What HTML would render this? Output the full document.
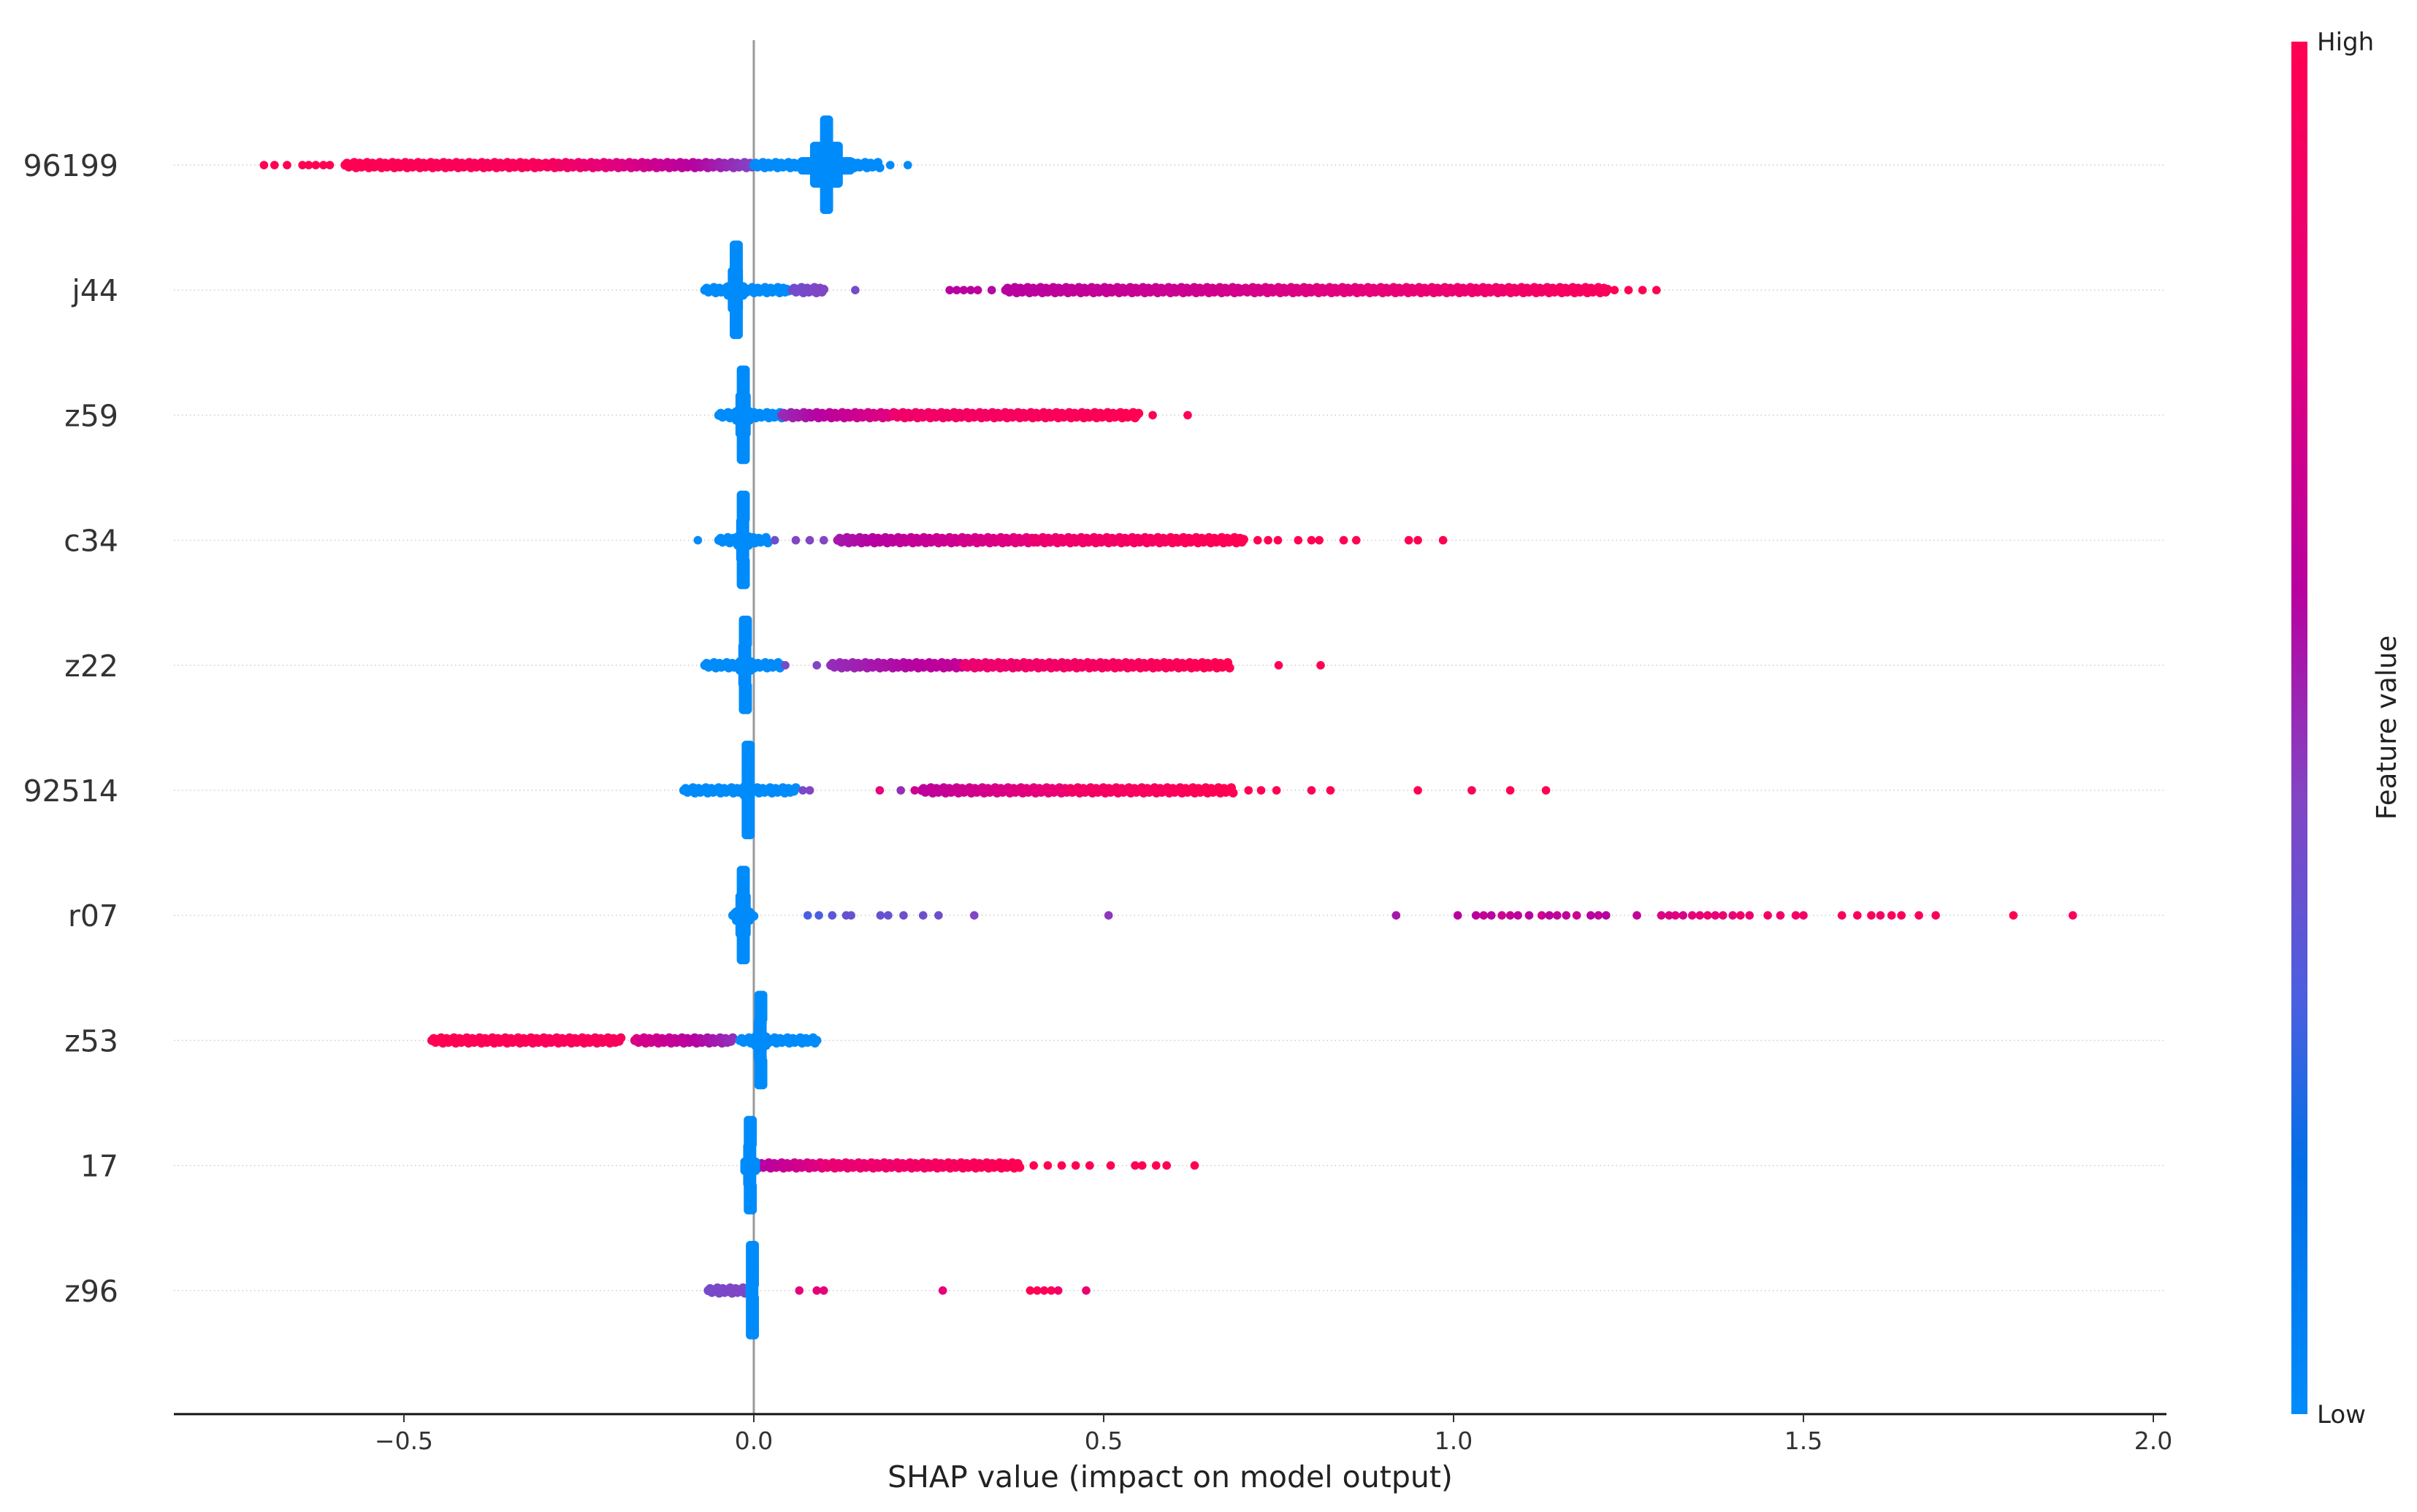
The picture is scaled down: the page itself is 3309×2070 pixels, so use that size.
<!DOCTYPE html>
<html><head><meta charset="utf-8">
<style>
html,body{margin:0;padding:0;background:#fff;}
svg{display:block;}
text{font-family:"DejaVu Sans","Liberation Sans",sans-serif;}
</style></head>
<body>
<svg id="chart" width="3309" height="2070" viewBox="0 0 3309 2070" xmlns="http://www.w3.org/2000/svg">
<defs>
<linearGradient id="cbar" x1="0" y1="1" x2="0" y2="0">
<stop offset="0" stop-color="#008bfb"/>
<stop offset="0.18" stop-color="#006fe8"/>
<stop offset="0.3" stop-color="#4a5fe0"/>
<stop offset="0.45" stop-color="#8245c4"/>
<stop offset="0.6" stop-color="#b800a0"/>
<stop offset="0.8" stop-color="#e6007a"/>
<stop offset="1" stop-color="#ff0052"/>
</linearGradient>
</defs>
<g id="grid"></g>
<line x1="1032" y1="55" x2="1032" y2="1936" stroke="#999" stroke-width="3"/>
<g id="marks"></g>
<g id="ylabels"></g>
<g id="xaxis">
<line x1="238" y1="1936" x2="2966" y2="1936" stroke="#111" stroke-width="3"/>
</g>
<text x="1602" y="2036" font-size="41" fill="#222" text-anchor="middle">SHAP value (impact on model output)</text>
<rect x="3137" y="57" width="22" height="1879" fill="url(#cbar)"/>
<text x="3172" y="69" font-size="34" fill="#222">High</text>
<text x="3172" y="1948" font-size="34" fill="#222">Low</text>
<text x="3280" y="996" font-size="37" fill="#222" text-anchor="middle" transform="rotate(-90 3280 996)">Feature value</text>
</svg>
<script>
// ---- data ----
const features = ["96199","j44","z59","c34","z22","92514","r07","z53","17","z96"];
const xTicks = [-0.5, 0.0, 0.5, 1.0, 1.5, 2.0];
const xTickLabels = ["\u22120.5","0.0","0.5","1.0","1.5","2.0"];
// blue (low feature value) dense vertical cluster centre per feature
const clusterCenters = [0.104, -0.025, -0.015, -0.015, -0.012, -0.008, -0.015, 0.010, -0.005, -0.002];
// half-width of the cluster's central bulge in SHAP units
const clusterBulge = [0.035, 0.012, 0.010, 0.008, 0.008, 0.006, 0.010, 0.008, 0.008, 0.004];
// dense horizontal bands: [featureIndex, fromShap, toShap, colorFrom, colorTo]
const bands = [
 [0,-0.584,-0.30,1.0,0.95],[0,-0.30,-0.10,0.95,0.62],[0,-0.10,0.0,0.62,0.45],[0,0.0,0.18,0.0,0.0],
 [1,-0.07,0.05,0.0,0.0],[1,0.055,0.10,0.4,0.45],[1,0.36,0.70,0.6,0.72],[1,0.70,1.22,0.72,0.95],
 [2,-0.05,0.04,0.0,0.0],[2,0.04,0.20,0.5,0.78],[2,0.20,0.55,0.88,1.0],
 [3,-0.05,0.02,0.0,0.0],[3,0.12,0.40,0.55,0.8],[3,0.40,0.70,0.85,1.0],
 [4,-0.07,0.04,0.0,0.0],[4,0.11,0.30,0.5,0.65],[4,0.30,0.68,0.85,1.0],
 [5,-0.10,0.06,0.0,0.0],[5,0.24,0.45,0.62,0.85],[5,0.45,0.685,0.9,1.0],
 [6,-0.03,0.0,0.0,0.0],
 [7,-0.46,-0.19,1.0,0.95],[7,-0.17,-0.03,0.75,0.5],[7,-0.02,0.09,0.0,0.0],
 [8,-0.01,0.10,0.55,0.78],[8,0.10,0.38,0.82,1.0],
 [9,-0.065,-0.005,0.42,0.45]
];
// individual points: [featureIndex, shapValue, colorValue]
const points = [
 [0,-0.70,1],[0,-0.685,1],[0,-0.667,1],[0,-0.645,1],[0,-0.636,1],[0,-0.626,1],[0,-0.615,1],[0,-0.606,1],[0,0.195,0],[0,0.22,0],
 [1,0.145,0.42],[1,0.28,0.6],[1,0.29,0.6],[1,0.30,0.62],[1,0.31,0.6],[1,0.32,0.62],[1,0.34,0.58],[1,1.23,1],[1,1.25,1],[1,1.27,1],[1,1.29,1],
 [2,0.57,1],[2,0.62,1],
 [3,-0.08,0],[3,0.03,0.4],[3,0.06,0.45],[3,0.08,0.45],[3,0.10,0.45],[3,0.72,1],[3,0.735,1],[3,0.749,1],[3,0.778,1],[3,0.797,1],[3,0.808,1],[3,0.843,1],[3,0.861,1],[3,0.936,1],[3,0.949,1],[3,0.985,1],
 [4,0.045,0.42],[4,0.09,0.45],[4,0.75,1],[4,0.81,1],
 [5,0.07,0.42],[5,0.08,0.45],[5,0.18,0.8],[5,0.21,0.5],[5,0.23,0.7],[5,0.707,1],[5,0.725,1],[5,0.747,1],[5,0.797,1],[5,0.824,1],[5,0.949,1],[5,1.026,1],[5,1.081,1],[5,1.132,1],
 [6,0.077,0.3],[6,0.093,0.3],[6,0.112,0.35],[6,0.132,0.38],[6,0.139,0.38],[6,0.181,0.38],[6,0.192,0.38],[6,0.214,0.4],[6,0.242,0.4],[6,0.264,0.4],[6,0.315,0.45],[6,0.507,0.48],
 [6,0.918,0.55],[6,1.006,0.6],[6,1.032,0.6],[6,1.043,0.65],[6,1.054,0.6],[6,1.069,0.7],[6,1.081,0.65],[6,1.092,0.62],[6,1.108,0.6],[6,1.126,0.7],[6,1.137,0.6],[6,1.148,0.65],[6,1.161,0.62],[6,1.176,0.68],[6,1.196,0.6],[6,1.207,0.62],[6,1.218,0.6],[6,1.262,0.65],[6,1.297,0.75],[6,1.308,0.75],[6,1.317,0.78],[6,1.328,0.72],[6,1.341,0.8],[6,1.352,0.82],[6,1.363,0.85],[6,1.374,0.8],[6,1.385,0.85],[6,1.399,0.82],[6,1.410,0.9],[6,1.423,0.85],[6,1.449,0.9],[6,1.467,0.88],[6,1.489,0.9],[6,1.500,0.88],[6,1.555,0.95],[6,1.577,0.95],[6,1.597,0.95],[6,1.610,0.92],[6,1.626,0.95],[6,1.640,0.95],[6,1.665,0.95],[6,1.689,0.95],[6,1.800,1],[6,1.885,0.95],
 [8,0.40,1],[8,0.42,1],[8,0.44,1],[8,0.46,1],[8,0.48,1],[8,0.51,1],[8,0.545,1],[8,0.555,1],[8,0.575,1],[8,0.59,1],[8,0.63,1],
 [9,0.065,0.8],[9,0.09,0.8],[9,0.10,0.8],[9,0.27,0.8],[9,0.395,1],[9,0.405,1],[9,0.415,0.95],[9,0.425,1],[9,0.435,0.9],[9,0.475,0.85]
];
// ---- scales ----
const X0 = 1032, PXU = 958;
function xScale(v){ return X0 + v*PXU; }
const ROW0 = 226, ROWSTEP = 171.2;
function yScale(i){ return ROW0 + i*ROWSTEP; }
const cstops = [[0,[0,139,251]],[0.18,[0,111,232]],[0.3,[74,95,224]],[0.45,[130,69,196]],[0.6,[184,0,160]],[0.8,[230,0,122]],[1,[255,0,82]]];
function colorOf(t){
  t=Math.max(0,Math.min(1,t));
  for(let k=1;k<cstops.length;k++){
    if(t<=cstops[k][0]){
      const a=cstops[k-1],b=cstops[k],f=(t-a[0])/(b[0]-a[0]);
      const c=a[1].map((v,j)=>Math.round(v+(b[1][j]-v)*f));
      return "rgb("+c.join(",")+")";
    }
  }
  return "rgb(255,0,82)";
}
const NS="http://www.w3.org/2000/svg";
const marks=document.getElementById("marks");
const grid=document.getElementById("grid");
const ylab=document.getElementById("ylabels");
const xaxis=document.getElementById("xaxis");
function dot(cx,cy,fill,r){
  const c=document.createElementNS(NS,"circle");
  c.setAttribute("cx",cx.toFixed(1));c.setAttribute("cy",cy.toFixed(1));
  c.setAttribute("r",r||"5.6");c.setAttribute("fill",fill);
  
  
  marks.appendChild(c);
}
features.forEach((f,i)=>{
  const y=yScale(i);
  const l=document.createElementNS(NS,"line");
  l.setAttribute("x1",238);l.setAttribute("x2",2966);l.setAttribute("y1",y);l.setAttribute("y2",y);
  l.setAttribute("stroke","#ccc");l.setAttribute("stroke-width","1.5");l.setAttribute("stroke-dasharray","1.5 4");
  
  
  grid.appendChild(l);
  const t=document.createElementNS(NS,"text");
  t.setAttribute("x",162);t.setAttribute("y",y+15);t.setAttribute("text-anchor","end");
  t.setAttribute("font-size","41");t.setAttribute("fill","#333");
  t.textContent=f;
  
  
  ylab.appendChild(t);
});
xTicks.forEach((v,k)=>{
  const x=xScale(v);
  const l=document.createElementNS(NS,"line");
  l.setAttribute("x1",x);l.setAttribute("x2",x);l.setAttribute("y1",1936);l.setAttribute("y2",1947);
  l.setAttribute("stroke","#333");l.setAttribute("stroke-width","2");
  
  
  xaxis.appendChild(l);
  const t=document.createElementNS(NS,"text");
  t.setAttribute("x",x);t.setAttribute("y",1984);t.setAttribute("text-anchor","middle");
  t.setAttribute("font-size","33");t.setAttribute("fill","#333");
  t.textContent=xTickLabels[k];
  
  
  xaxis.appendChild(t);
});
const jit=[0,-2.5,2.5,-1,1,-3.5,3.5];
bands.forEach(b=>{
  const y=yScale(b[0]);
  const x1=xScale(b[1]),x2=xScale(b[2]);
  const n=Math.max(1,Math.round((x2-x1)/2.5));
  for(let k=0;k<=n;k++){
    const f=k/n;
    dot(x1+(x2-x1)*f, y+jit[k%7], colorOf(b[3]+(b[4]-b[3])*f), "6.3");
  }
});
points.forEach(p=>{ dot(xScale(p[1]), yScale(p[0]), colorOf(p[2]), "5.8"); });
clusterCenters.forEach((c,i)=>{
  const y=yScale(i), x=xScale(c);
  const bw=clusterBulge[i]*PXU;
  for(let dy=-62;dy<=62;dy+=3){
    const a=Math.abs(dy);
    let w = a<8?bw:(a<28?bw*0.5:3);
    w=Math.max(w,3);
    for(let dx=-w;dx<=w;dx+=3){ dot(x+dx,y+dy,colorOf(0),"6"); }
  }
});
</script>
</body></html>
